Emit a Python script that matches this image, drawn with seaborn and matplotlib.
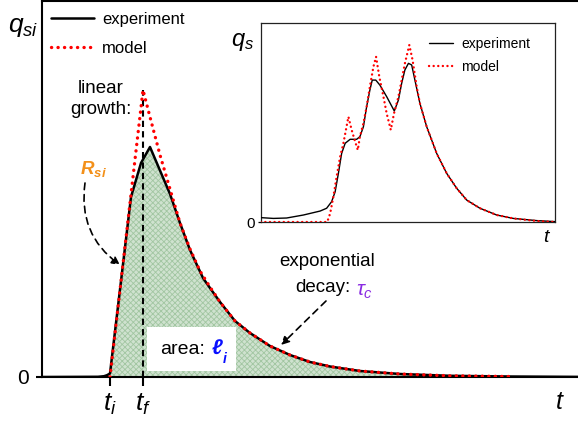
import numpy as np
import pandas as pd
import matplotlib
matplotlib.use("Agg")
import matplotlib.pyplot as plt
import seaborn as sns
from matplotlib.patches import Rectangle

# ---------------- main panel data (schematic single pulse) ----------------
t_exp = [0.0, 5.6, 6.2, 6.5, 6.8, 8.9, 9.9, 10.8, 12.8, 13.8, 14.8, 16.1, 16.8, 17.8,
         19.3, 20.8, 22.8, 24.8, 26.8, 28.8, 31.8, 35.8, 40.8, 46.8, 55.8]
q_exp = [0.0, 0.02, 0.08, 0.18, 0.35, 18.0, 21.4, 23.0, 18.3, 15.4, 12.7, 9.9, 8.9, 7.5,
         5.6, 4.4, 3.1, 2.2, 1.5, 1.05, 0.6, 0.3, 0.12, 0.05, 0.0]
t_mod = [6.8, 10.1, 10.8, 11.8, 12.8, 13.8, 14.8, 15.8, 16.8, 17.8, 19.3, 20.8, 22.8,
         24.8, 26.8, 28.8, 31.8, 35.8, 40.8, 46.8]
q_mod = [0.0, 28.7, 26.0, 22.2, 18.8, 15.4, 12.8, 10.6, 9.0, 7.5, 5.6, 4.4, 3.1,
         2.2, 1.5, 1.05, 0.6, 0.3, 0.12, 0.05]
t_i, t_f = 6.8, 10.1
tick_labels = [r"$t_i$", r"$t_f$"]

# ---------------- inset data (several pulses) ----------------
ti_exp = [0, 4.3, 8.8, 14.5, 20.2, 22.4, 24.1, 25.3, 26.4, 27.5, 28.7, 30.4, 32.6, 33.7,
          34.9, 36.0, 37.1, 37.9, 39.1, 40.5, 42.8, 45.4, 46.8, 47.9, 49.0, 50.2, 51.3,
          52.4, 54.1, 56.4, 59.8, 63.2, 66.6, 70.0, 74.5, 80.2, 85.8, 93.8, 100]
qi_exp = [2.2, 1.8, 2.0, 3.5, 5.5, 6.9, 10.2, 15.2, 24.4, 34.4, 39.5, 41.5, 41.5, 42.8,
          47.8, 57.9, 66.2, 71.2, 71.2, 68.7, 62.9, 55.7, 61.2, 69.6, 76.3, 79.6, 78.8,
          71.2, 59.5, 47.8, 34.4, 24.4, 16.9, 11.0, 6.9, 3.5, 1.8, 0.7, 0.2]
ti_mod = [0, 22.6, 23.6, 24.7, 25.8, 27.0, 28.1, 29.8, 30.9, 32.1, 33.0, 33.7, 34.9,
          36.0, 37.1, 38.3, 39.2, 40.3, 41.7, 42.8, 44.2, 45.3, 46.8, 47.9, 49.0, 50.5,
          51.6, 53.0, 54.1, 56.4, 59.8, 63.2, 66.6, 70.0, 74.5, 80.2, 85.8, 93.8, 100]
qi_mod = [0, 0, 4.3, 12.7, 22.7, 32.8, 39.5, 52.8, 46.2, 40.3, 36.1, 42.8, 49.5,
          57.9, 67.9, 77.9, 82.9, 72.9, 62.9, 54.5, 46.2, 54.5, 62.9, 71.2, 79.6, 88.8,
          81.3, 67.9, 59.5, 47.8, 34.4, 24.4, 16.9, 11.0, 6.9, 3.5, 1.8, 0.5, 0.0]

sns.set_style("white")
plt.rcParams["font.family"] = ["Liberation Sans", "DejaVu Sans"]
plt.rcParams["text.color"] = "black"
plt.rcParams["axes.labelcolor"] = "black"
plt.rcParams["xtick.color"] = "black"
plt.rcParams["ytick.color"] = "black"
plt.rcParams["mathtext.fontset"] = "custom"
plt.rcParams["mathtext.it"] = "Liberation Sans:italic"
plt.rcParams["mathtext.rm"] = "Liberation Sans"
plt.rcParams["mathtext.bf"] = "Liberation Sans:bold"
plt.rcParams["mathtext.bfit"] = "Liberation Sans:bold:italic"
plt.rcParams["hatch.linewidth"] = 0.6

W, H = 578, 428
fig = plt.figure(figsize=(W / 100, H / 100), dpi=100)

def fx(px):
    return px / W

def fy(py):
    return 1 - py / H

# ---------------- main axes ----------------
ax = fig.add_axes([fx(42), fy(377), (600 - 42) / W, (377 - 0.5) / H])
ax.set_xlim(0, 55.8)
ax.set_ylim(0, 37.65)

t_arr = np.array(t_exp)
ax.fill_between(t_arr, q_exp, 0, where=t_arr >= t_i, facecolor="#cfe2cf",
                edgecolor="#a2c6a2", hatch="xxxxxx", linewidth=0, zorder=1)
ax.vlines(t_f, 0, max(q_mod), colors="k", linestyles=(0, (3, 2)), lw=1.5, zorder=2.5)

sns.lineplot(x=t_exp, y=q_exp, ax=ax, color="k", lw=1.8, label="experiment",
             sort=False, estimator=None, zorder=3)
sns.lineplot(x=t_mod, y=q_mod, ax=ax, color="#ff0000", lw=2.4, label="model",
             sort=False, estimator=None, linestyle=(0, (0.05, 1.9)),
             dash_capstyle="round", zorder=4)

ax.set_xticks([t_i, t_f], tick_labels)
ax.set_yticks([0], ["0"])
ax.tick_params(axis="x", bottom=True, direction="out", length=6.5, width=1.5,
               labelsize=19, pad=4, color="k", labelcolor="k")
ax.tick_params(axis="y", left=True, direction="out", length=4.5, width=1.5,
               labelsize=15, pad=5, color="k", labelcolor="k")
ax.set_xlabel("")
ax.set_ylabel("")
for s in ax.spines.values():
    s.set_visible(True)
    s.set_linewidth(1.5)
    s.set_color("k")

ax.legend(loc="upper left", bbox_to_anchor=(fx(51), fy(12)), bbox_transform=fig.transFigure,
          frameon=False, fontsize=12, handlelength=2.6, handletextpad=0.45,
          labelspacing=0.85, borderpad=0, borderaxespad=0, labelcolor="k")

fig.text(fx(23), fy(27), r"$q_{si}$", fontsize=19, ha="center", va="center")
fig.text(fx(560), fy(402), r"$t$", fontsize=18, ha="center", va="center")

# annotations
fig.text(fx(101), fy(99), "linear\ngrowth:", fontsize=13.5, ha="center", va="center",
         linespacing=1.35)
fig.text(fx(93), fy(169), r"$\mathbfit{R}_{\mathbfit{si}}$", fontsize=13.5,
         color="#f39019", ha="center", va="center")
ax.annotate("", xy=(120, H - 265), xycoords="figure pixels",
            xytext=(85, H - 183), textcoords="figure pixels",
            arrowprops=dict(arrowstyle="-|>", color="k", lw=1.2, linestyle=(0, (4, 3)),
                            connectionstyle="arc3,rad=0.3", mutation_scale=12,
                            shrinkA=0, shrinkB=0))
fig.text(fx(327), fy(262), "exponential", fontsize=13.5, ha="center", va="center")
fig.text(fx(350), fy(288), "decay:", fontsize=13.5, ha="right", va="center")
fig.text(fx(356), fy(292), r"$\tau_c$", fontsize=15, color="#8a2be2", ha="left",
         va="center")
ax.annotate("", xy=(281, H - 345), xycoords="figure pixels",
            xytext=(326, H - 301), textcoords="figure pixels",
            arrowprops=dict(arrowstyle="-|>", color="k", lw=1.2, linestyle=(0, (4, 3)),
                            mutation_scale=12, shrinkA=0, shrinkB=0))

ax.add_patch(Rectangle((fx(147), fy(371)), fx(236) - fx(147), fy(327) - fy(371),
                       transform=fig.transFigure, facecolor="white", edgecolor="none",
                       zorder=2.2))
fig.text(fx(160), fy(350), "area:", fontsize=14, ha="left", va="center")
fig.text(fx(212), fy(349), "\u2113", fontsize=15, color="#0a10ff", fontweight="bold",
         fontstyle="italic", ha="left", va="center")
fig.text(fx(222.5), fy(359), "i", fontsize=10, color="#0a10ff", fontweight="bold",
         fontstyle="italic", ha="left", va="center")

# ---------------- inset ----------------
axin = fig.add_axes([fx(260.7), fy(222), (555 - 260.7) / W, (222 - 22.7) / H])
axin.set_xlim(0, 100)
axin.set_ylim(0, 100)
sns.lineplot(x=ti_exp, y=qi_exp, ax=axin, color="k", lw=1.0, label="experiment",
             sort=False, estimator=None, zorder=3)
sns.lineplot(x=ti_mod, y=qi_mod, ax=axin, color="#ff0000", lw=1.7, label="model",
             sort=False, estimator=None, linestyle=(0, (0.05, 1.9)),
             dash_capstyle="round", zorder=4)
axin.set_xticks([])
axin.set_yticks([0], ["0"])
axin.tick_params(axis="y", left=True, direction="out", length=2.5, width=0.9,
                 labelsize=11, pad=2, color="k", labelcolor="k")
axin.set_xlabel("")
axin.set_ylabel("")
for s in axin.spines.values():
    s.set_visible(True)
    s.set_linewidth(0.9)
    s.set_color("#222222")
axin.legend(loc="upper left", bbox_to_anchor=(fx(429), fy(37)),
            bbox_transform=fig.transFigure, frameon=False, fontsize=10,
            handlelength=1.75, handletextpad=0.55, labelspacing=0.62, borderpad=0,
            borderaxespad=0, labelcolor="k")
fig.text(fx(243), fy(42), r"$q_s$", fontsize=17, ha="center", va="center")
fig.text(fx(547), fy(238), r"$t$", fontsize=14, ha="center", va="center")

fig.savefig("out.png", dpi=100)
